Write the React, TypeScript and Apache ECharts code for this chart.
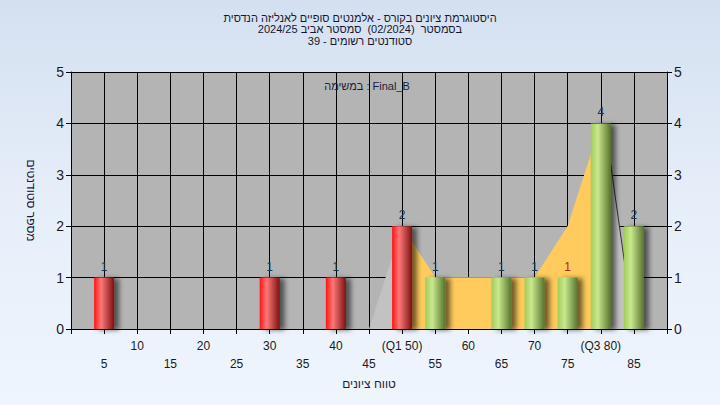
import React, { useEffect, useRef } from "react";
import * as echarts from "echarts";

// ---- data ----
const scores = [5, 30, 40, 50, 55, 65, 70, 75, 80, 85];
const counts = [1, 1, 1, 2, 1, 1, 1, 1, 4, 2];
const lowUpTo = 50; // bars up to and including Q1 are red
const labelRedAt = [75];

const curveX = [50, 55, 60, 65, 70, 75, 80];
const curveY = [2, 1, 1, 1, 1, 2, 4];

const shadeX = [45, 50, 55, 60, 65, 70, 75, 80, 81.5, 85];
const shadeY = [0, 2, 1, 1, 1, 1, 2, 4, 3.2, 0];

const edgeX = [81.5, 85];
const edgeY = [3.2, 0];

const quartileTicks = [50, 80];
const quartileNames = ["Q1", "Q3"];

const titleLines = [
  "היסטוגרמת ציונים בקורס - אלמנטים סופיים לאנליזה הנדסית",
  "בסמסטר  (02/2024)  סמסטר אביב 2024/25",
  "סטודנטים רשומים - 39",
];
const taskLabel = "במשימה : Final_B";
const xName = "טווח ציונים";
const yName = "מספר סטודנטים";

const FONT = "'Liberation Sans', 'DejaVu Sans', Arial, sans-serif";

export default function App() {
  const ref = useRef<HTMLDivElement>(null);
  useEffect(() => {
    if (!ref.current) return;
    const chart = echarts.init(ref.current, undefined, { renderer: "svg" });

    const redGrad = new echarts.graphic.LinearGradient(0, 0, 1, 0, [
      { offset: 0, color: "#ff1414" },
      { offset: 0.35, color: "#ff7878" },
      { offset: 1, color: "#7a1212" },
    ]);
    const greenGrad = new echarts.graphic.LinearGradient(0, 0, 1, 0, [
      { offset: 0, color: "#a2cc58" },
      { offset: 0.35, color: "#cae88e" },
      { offset: 1, color: "#56742c" },
    ]);

    const barData = scores.map((s, i) => ({
      value: [s, counts[i]],
      itemStyle: { color: s <= lowUpTo ? redGrad : greenGrad },
      label: { color: labelRedAt.includes(s) ? "#a8281c" : "#1e3550" },
    }));

    const axisLabelFmt = (v: number) => {
      if (v <= 0 || v >= 90) return "";
      const qi = quartileTicks.indexOf(v);
      const txt = qi >= 0 ? `(${quartileNames[qi]} ${v})` : String(v);
      return v % 10 === 0 ? txt : "\n" + txt;
    };

    const nameStyle = { fontFamily: FONT, fontSize: 12, color: "#1c1c3a" };

    chart.setOption({
      animation: false,
      textStyle: { fontFamily: FONT },
      title: {
        text: titleLines.join("\n"),
        left: "center",
        top: 12,
        padding: 0,
        textStyle: {
          fontFamily: FONT,
          fontSize: 11,
          fontWeight: "normal",
          color: "#161630",
          lineHeight: 11.5,
        },
      },
      graphic: [
        {
          type: "text",
          x: 367,
          y: 86,
          z: 10,
          style: {
            text: taskLabel,
            font: `11px ${FONT}`,
            fill: "#1c1c3a",
            align: "center",
            verticalAlign: "middle",
          },
        },
      ],
      grid: {
        left: 71,
        right: 53,
        top: 72,
        bottom: 76,
        show: true,
        backgroundColor: "#b4b4b4",
        borderWidth: 0,
      },
      xAxis: {
        type: "value",
        min: 0,
        max: 90,
        interval: 5,
        name: xName,
        nameLocation: "middle",
        nameGap: 44,
        nameTextStyle: nameStyle,
        axisLine: { show: true, onZero: false, lineStyle: { color: "#000", width: 1 } },
        axisTick: { show: true, length: 5, lineStyle: { color: "#000" } },
        axisLabel: {
          formatter: axisLabelFmt,
          fontFamily: FONT,
          fontSize: 12,
          lineHeight: 18,
          margin: 8,
          color: "#1a1a1a",
          showMinLabel: true,
          showMaxLabel: true,
        },
        splitLine: { show: true, lineStyle: { color: "#000", width: 1 } },
      },
      yAxis: [
        {
          type: "value",
          min: 0,
          max: 5,
          interval: 1,
          name: yName,
          nameLocation: "middle",
          nameRotate: -90,
          nameGap: 34,
          nameTextStyle: nameStyle,
          axisLine: { show: true, lineStyle: { color: "#000", width: 1 } },
          axisTick: { show: true, length: 5, lineStyle: { color: "#000" } },
          axisLabel: { fontFamily: FONT, fontSize: 14, color: "#1a1a1a", margin: 7 },
          splitLine: { show: true, lineStyle: { color: "#000", width: 1 } },
        },
        {
          type: "value",
          min: 0,
          max: 5,
          interval: 1,
          position: "right",
          axisLine: { show: true, lineStyle: { color: "#000", width: 1 } },
          axisTick: { show: true, length: 5, lineStyle: { color: "#000" } },
          axisLabel: { fontFamily: FONT, fontSize: 14, color: "#1a1a1a", margin: 7 },
          splitLine: { show: false },
        },
      ],
      series: [
        {
          type: "line",
          z: 1,
          symbol: "none",
          lineStyle: { width: 0 },
          areaStyle: { color: "#c2c2c2", opacity: 1 },
          data: shadeX.map((x, i) => [x, shadeY[i]]),
        },
        {
          type: "line",
          z: 2,
          symbol: "none",
          lineStyle: { width: 0 },
          areaStyle: { color: "#fecb5c", opacity: 1 },
          data: curveX.map((x, i) => [x, curveY[i]]),
        },
        {
          type: "line",
          z: 2,
          symbol: "none",
          lineStyle: { width: 1, color: "#333" },
          data: edgeX.map((x, i) => [x, edgeY[i]]),
        },
        {
          type: "bar",
          z: 3,
          barWidth: 20,
          itemStyle: {
            shadowBlur: 5,
            shadowOffsetX: 5,
            shadowOffsetY: 1,
            shadowColor: "rgba(0,0,0,0.55)",
          },
          label: {
            show: true,
            position: "top",
            distance: 5,
            fontFamily: FONT,
            fontSize: 12,
          },
          data: barData,
        },
      ],
    });
    return () => chart.dispose();
  }, []);

  return (
    <div
      style={{
        position: "fixed",
        left: 0,
        top: 0,
        width: 720,
        height: 405,
        background: "linear-gradient(to bottom, #d4e0f1 0%, #e6eef9 50%, #eff5fd 100%)",
      }}
    >
      <div ref={ref} style={{ width: 720, height: 405 }} />
    </div>
  );
}
